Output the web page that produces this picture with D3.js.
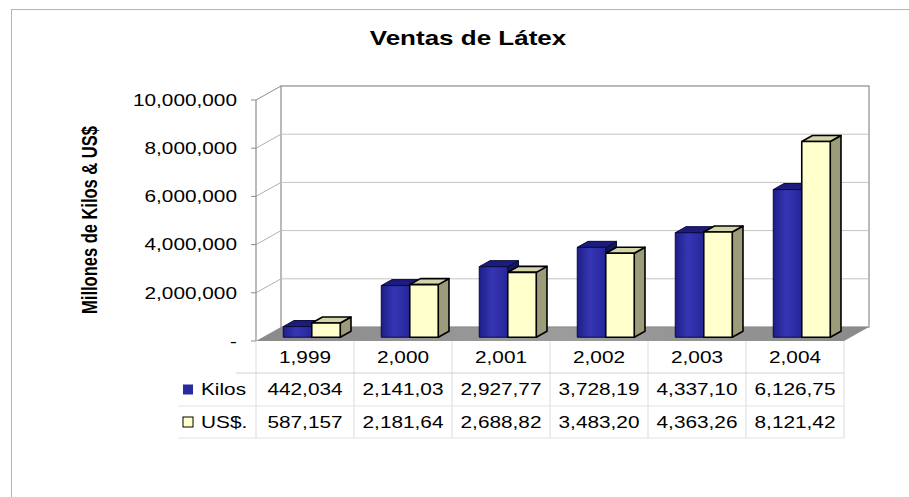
<!DOCTYPE html>
<meta charset="utf-8">
<style>
body { margin: 0; background: #fff; }
text { font-family: "Liberation Sans", Arial, sans-serif; fill: #000; }
.title { font-weight: bold; font-size: 20px; }
.ytitle { font-weight: bold; font-size: 16.5px; }
.tick { font-size: 16px; }
.cell { font-size: 16px; }
</style>
<svg width="909" height="497"></svg>
<script src="https://d3js.org/d3.v7.min.js"></script>
<script>

var years = [1999, 2000, 2001, 2002, 2003, 2004];
var kilos = [442034, 2141030, 2927770, 3728190, 4337100, 6126750];
var dolares = [587157, 2181640, 2688820, 3483200, 4363260, 8121420];
var seriesNames = ["Kilos", "US$."];
var yTicks = [0, 2000000, 4000000, 6000000, 8000000, 10000000];

var svg = d3.select("svg");
var sx = 1.3; // the picture is stretched sideways

// chart frame
svg.append("rect")
    .attr("x", 11.5).attr("y", 9.5)
    .attr("width", 910).attr("height", 500)
    .attr("fill", "none").attr("stroke", "#b4b4b4");

svg.append("text").attr("class", "title")
    .attr("text-anchor", "middle")
    .attr("transform", "translate(468,45) scale(" + sx + ",1)")
    .text("Ventas de Látex");

svg.append("text").attr("class", "ytitle")
    .attr("text-anchor", "middle")
    .attr("transform", "translate(97,220) scale(" + sx + ",1) rotate(-90)")
    .text("Millones de Kilos & US$");

var x = d3.scaleBand().domain(years).range([256, 844]);
var inner = d3.scaleBand().domain(seriesNames).range([0, x.bandwidth()]).paddingOuter(0.72);
var y = d3.scaleLinear().domain([0, 10000000]).range([341, 100]);

var DX = 25, DY = -14;
var z0 = 0.27, z1 = 0.70;

function pt(px, py, z) { return [px + z * DX, py + z * DY]; }
function poly(points) { return "M" + points.map(function(p) { return p.join(","); }).join("L") + "Z"; }

var g = svg.append("g");

// floor
var grad = svg.append("defs");
var fl = grad.append("linearGradient").attr("id", "floor").attr("x1", 0).attr("x2", 1);
fl.append("stop").attr("offset", 0).attr("stop-color", "#8a8a8a");
fl.append("stop").attr("offset", 0.5).attr("stop-color", "#9c9c9c");
fl.append("stop").attr("offset", 1).attr("stop-color", "#8a8a8a");
g.append("path")
    .attr("d", poly([[256, y(0)], [844, y(0)], pt(844, y(0), 1), pt(256, y(0), 1)]))
    .attr("fill", "url(#floor)");

// back wall
g.append("rect")
    .attr("x", 256 + DX).attr("y", y(10000000) + DY)
    .attr("width", 844 - 256).attr("height", y(0) - y(10000000))
    .attr("fill", "none").attr("stroke", "#8c8c8c").attr("stroke-width", 1.2);

yTicks.forEach(function(v) {
  if (v > 0 && v < 10000000) {
    g.append("line")
        .attr("x1", 256 + DX).attr("x2", 844 + DX)
        .attr("y1", y(v) + DY).attr("y2", y(v) + DY)
        .attr("stroke", "#c4c4c4");
  }
  if (v > 0) {
    g.append("line")
        .attr("x1", 256).attr("y1", y(v))
        .attr("x2", 256 + DX).attr("y2", y(v) + DY)
        .attr("stroke", v == 10000000 ? "#8c8c8c" : "#b0b0b0");
  }
  g.append("line")
      .attr("x1", 251).attr("x2", 256)
      .attr("y1", y(v)).attr("y2", y(v))
      .attr("stroke", "#8c8c8c");
  g.append("text").attr("class", "tick")
      .attr("text-anchor", "end")
      .attr("dy", "0.36em")
      .attr("transform", "translate(237," + y(v) + ") scale(" + sx + ",1)")
      .text(v == 0 ? "-" : d3.format(",")(v));
});

g.append("line")
    .attr("x1", 256).attr("x2", 256)
    .attr("y1", y(10000000)).attr("y2", y(0))
    .attr("stroke", "#8c8c8c").attr("stroke-width", 1.2);

// bar colours
var bg = grad.append("linearGradient").attr("id", "blue").attr("x1", 0).attr("x2", 1);
bg.append("stop").attr("offset", 0).attr("stop-color", "#1e1e88");
bg.append("stop").attr("offset", 0.45).attr("stop-color", "#3636b4");
bg.append("stop").attr("offset", 1).attr("stop-color", "#26269a");

var styles = {
  "Kilos": { front: "url(#blue)", top: "#1c1c7c", side: "#15155e", stroke: "#0a0a3c", sw: 1 },
  "US$.": { front: "#ffffcc", top: "#d4d4aa", side: "#9c9c7a", stroke: "#000", sw: 1.6 }
};

function bar(name, year, value) {
  var s = styles[name];
  var x0 = x(year) + inner(name), x1 = x0 + inner.bandwidth();
  var yb = y(0), yt = y(value);
  var b = g.append("g");
  b.append("path")
      .attr("d", poly([pt(x1, yb, z0), pt(x1, yb, z1), pt(x1, yt, z1), pt(x1, yt, z0)]))
      .attr("fill", s.side).attr("stroke", s.stroke).attr("stroke-width", s.sw).attr("stroke-linejoin", "round");
  b.append("path")
      .attr("d", poly([pt(x0, yt, z0), pt(x1, yt, z0), pt(x1, yt, z1), pt(x0, yt, z1)]))
      .attr("fill", s.top).attr("stroke", s.stroke).attr("stroke-width", s.sw).attr("stroke-linejoin", "round");
  b.append("path")
      .attr("d", poly([pt(x0, yb, z0), pt(x1, yb, z0), pt(x1, yt, z0), pt(x0, yt, z0)]))
      .attr("fill", s.front).attr("stroke", s.stroke).attr("stroke-width", s.sw).attr("stroke-linejoin", "round");
}

years.forEach(function(yr, i) {
  bar("Kilos", yr, kilos[i]);
  bar("US$.", yr, dolares[i]);
});

// data table
var rows = [341, 373, 406, 438];
var tableLeft = 178;
var t = svg.append("g");
x.domain().forEach(function(yr) {
  t.append("line")
      .attr("x1", x(yr)).attr("x2", x(yr))
      .attr("y1", rows[0]).attr("y2", rows[3])
      .attr("stroke", "#dcdcdc");
});
t.append("line").attr("x1", 844).attr("x2", 844)
    .attr("y1", rows[0]).attr("y2", rows[3]).attr("stroke", "#dcdcdc");
t.append("line").attr("x1", 236).attr("x2", 844)
    .attr("y1", rows[1]).attr("y2", rows[1]).attr("stroke", "#d0d0d0");
t.append("line").attr("x1", tableLeft).attr("x2", 844)
    .attr("y1", rows[2]).attr("y2", rows[2]).attr("stroke", "#e2e2e2");
t.append("line").attr("x1", tableLeft).attr("x2", 844)
    .attr("y1", rows[3]).attr("y2", rows[3]).attr("stroke", "#e2e2e2");

function cellText(str, cx, cy) {
  t.append("text").attr("class", "cell")
      .attr("text-anchor", "middle")
      .attr("dy", "0.36em")
      .attr("transform", "translate(" + cx + "," + cy + ") scale(" + sx + ",1)")
      .text(str);
}

var fmt = d3.format(",");
years.forEach(function(yr, i) {
  var cx = x(yr) + x.bandwidth() / 2;
  cellText(fmt(yr), cx, (rows[0] + rows[1]) / 2);
  cellText(fmt(kilos[i]).slice(0, 8), cx, (rows[1] + rows[2]) / 2);
  cellText(fmt(dolares[i]).slice(0, 8), cx, (rows[2] + rows[3]) / 2);
});

// legend keys inside the table
[kilos, dolares].forEach(function(arr, j) {
  var name = seriesNames[j], s = styles[name];
  var cy = (rows[j + 1] + rows[j + 2]) / 2;
  t.append("rect")
      .attr("x", 183).attr("y", cy - 5)
      .attr("width", 10).attr("height", 10)
      .attr("fill", j == 0 ? "#2a2aa0" : s.front)
      .attr("stroke", j == 0 ? "none" : "#000");
  t.append("text").attr("class", "cell")
      .attr("dy", "0.36em")
      .attr("transform", "translate(201," + cy + ") scale(" + sx + ",1)")
      .text(name);
});

</script>
